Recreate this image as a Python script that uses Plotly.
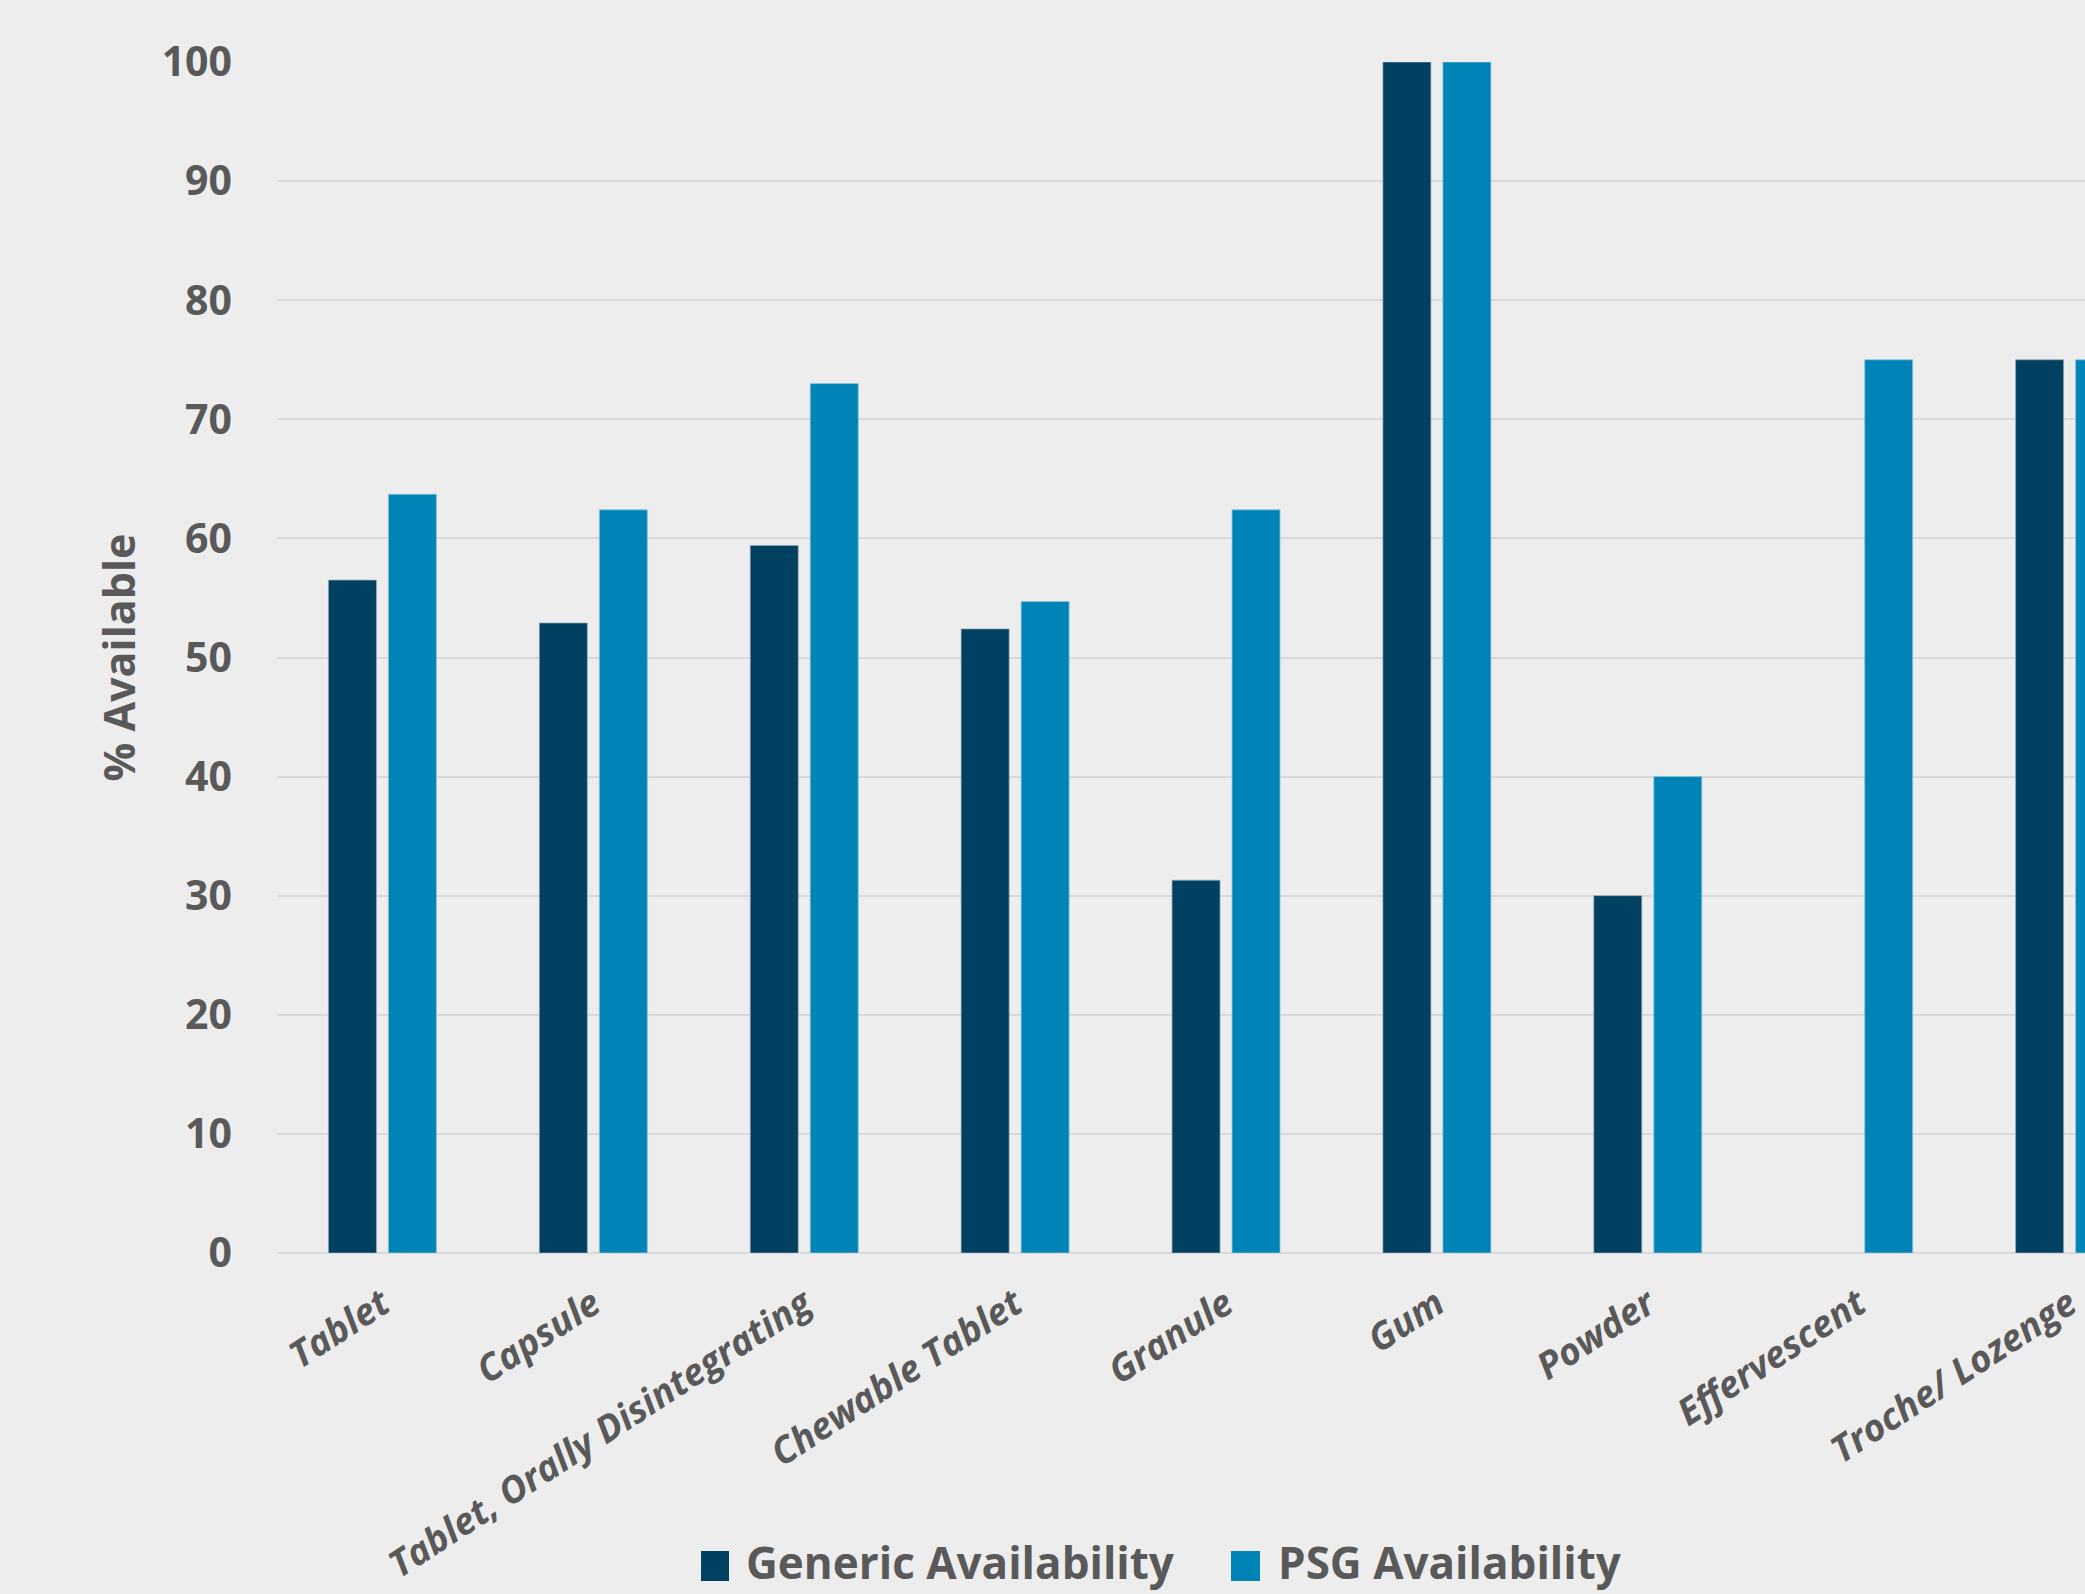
import plotly.graph_objects as go

categories = ["Tablet", "Capsule", "Tablet, Orally Disintegrating", "Chewable Tablet",
              "Granule", "Gum", "Powder", "Effervescent", "Troche/ Lozenge"]
generic_availability = [56.5, 52.9, 59.4, 52.4, 31.3, 100, 30.0, None, 75]
psg_availability = [63.7, 62.4, 73.0, 54.7, 62.4, 100, 40.0, 75, 75]
series_names = ["Generic Availability", "PSG Availability"]
y_ticks = [0, 10, 20, 30, 40, 50, 60, 70, 80, 90, 100]

dark = "#004060"
light = "#0083B6"
txt = "#595959"
bg = "#EDEDED"
font_family = "Open Sans"

fig = go.Figure()
fig.add_trace(go.Bar(x=categories, y=generic_availability, name=series_names[0],
                     marker=dict(color=dark, line=dict(color="rgba(150,170,185,0.7)", width=1)),
                     showlegend=False))
fig.add_trace(go.Bar(x=categories, y=psg_availability, name=series_names[1],
                     marker=dict(color=light, line=dict(color="rgba(140,195,220,0.8)", width=1)),
                     showlegend=False))

W, H = 2085, 1594
ml, mr, mt, mb = 277, 0, 62, 341
pw, ph = W - ml - mr, H - mt - mb

def px_to_paper_x(px):
    return (px - ml) / pw

def px_to_paper_y(py):
    return (H - mb - py) / ph

fig.update_layout(
    width=W, height=H,
    paper_bgcolor=bg, plot_bgcolor=bg,
    margin=dict(l=ml, r=mr, t=mt, b=mb, pad=0),
    barmode="group", bargap=0.431, bargroupgap=0.2,
    font=dict(family=font_family, color=txt),
    showlegend=False,
    xaxis=dict(
        range=[-0.5, 8.073],
        showgrid=False, showline=False, zeroline=False,
        tickangle=-33,
        tickfont=dict(family=font_family, size=37, color=txt, weight=700, style="italic"),
        ticks="outside", ticklen=14, tickcolor="rgba(0,0,0,0)",
    ),
    yaxis=dict(
        range=[0, 100],
        tickvals=y_ticks,
        showgrid=True, gridcolor="#D9D9D9", gridwidth=2,
        zeroline=True, zerolinecolor="#D9D9D9", zerolinewidth=2,
        showline=False,
        tickfont=dict(family=font_family, size=41, color=txt, weight=700),
        ticklabelstandoff=44,
        title=dict(text="% Available",
                   font=dict(family=font_family, size=43, color=txt, weight=700),
                   standoff=12),
    ),
)

# Legend drawn with large square markers
legend_items = [
    (series_names[0], dark, 701, 729, 744),
    (series_names[1], light, 1231, 1260, 1276),
]
for name, col, x0, x1, tx in legend_items:
    fig.add_shape(type="rect", xref="paper", yref="paper",
                  x0=px_to_paper_x(x0), x1=px_to_paper_x(x1),
                  y0=px_to_paper_y(1581), y1=px_to_paper_y(1551),
                  fillcolor=col, line=dict(width=0))
    fig.add_annotation(xref="paper", yref="paper", x=px_to_paper_x(tx), y=px_to_paper_y(1562),
                       xanchor="left", yanchor="middle", showarrow=False, text=name,
                       font=dict(family=font_family, size=44, color=txt, weight=700))

fig.write_html("out.html")
